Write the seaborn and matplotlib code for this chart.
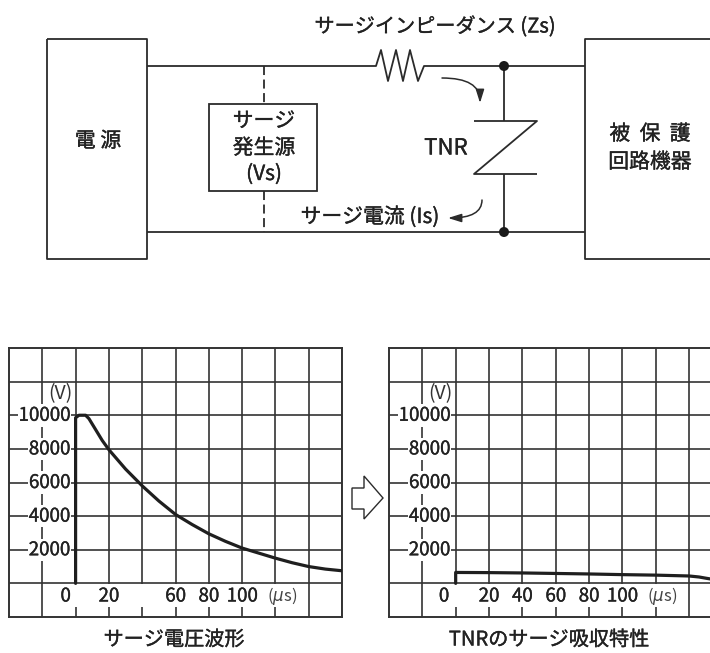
import matplotlib
matplotlib.use("Agg")
import matplotlib.pyplot as plt
from matplotlib.patches import Polygon, Rectangle, FancyArrowPatch, Circle
import matplotlib.patheffects as pe
import pandas as pd
import seaborn as sns

sns.set_theme(style="white")
plt.rcParams['font.family'] = ['Noto Sans CJK JP', 'DejaVu Sans']
plt.rcParams['mathtext.fontset'] = 'dejavusans'

# ---- data ----
surge_t = [0, 0, 2, 6, 8, 12, 16, 20, 30, 40, 50, 60, 70, 80, 90, 100, 110, 120, 130, 140, 150, 160]
surge_v = [0, 9850, 10000, 10000, 9800, 9150, 8500, 7950, 6800, 5800, 4900, 4100, 3500, 2950, 2500, 2100, 1800, 1500, 1230, 1000, 850, 750]
tnr_t = [0, 0, 20, 40, 60, 80, 100, 120, 140, 146, 150, 153]
tnr_v = [0, 650, 640, 620, 590, 560, 520, 490, 440, 380, 310, 260]
y_ticks = [2000, 4000, 6000, 8000, 10000]
left_x_labels = [20, 60, 80, 100]
right_x_labels = [20, 40, 60, 80, 100]
titles = ["サージ電圧波形", "TNRのサージ吸収特性"]

INK = "#2b2b2b"
W, H = 710, 653
fig = plt.figure(figsize=(W / 100, H / 100), dpi=100, facecolor="white")
THICK = [pe.withStroke(linewidth=0.25, foreground="#222222")]

# ---- circuit schematic, in a pixel-based axes ----
bg = fig.add_axes([0, 0, 1, 1], zorder=0)
bg.set_xlim(0, W)
bg.set_ylim(H, 0)
bg.axis("off")

def seg(xs, ys, lw=1.3, **kw):
    bg.plot(xs, ys, color=INK, lw=lw, solid_capstyle="butt", **kw)

def label(x, y, s, size=15, ha="center"):
    bg.text(x, y, s, fontsize=size, ha=ha, va="center", color="#222222", path_effects=THICK)

seg([47, 147, 147, 47, 47], [39, 39, 259, 259, 39])
seg([710, 585, 585, 710], [39, 39, 259, 259])
seg([147, 376, 381, 388, 396, 403, 410, 418, 424, 585],
    [66, 66, 50, 81, 50, 81, 50, 81, 66, 66])
seg([147, 585], [232, 232])
seg([264, 264], [66, 104], ls=(0, (5, 2.5)))
seg([264, 264], [191, 232], ls=(0, (5, 2.5)))
bg.add_patch(Rectangle((209, 104), 108, 87, fill=False, ec=INK, lw=1.3))
seg([504, 504], [66, 121])
seg([504, 504], [174, 232])
seg([474, 537, 474, 537], [121, 121, 174, 174])
for y in (66, 232):
    bg.add_patch(Circle((504, y), 5, fc="#1a1a1a", ec="none", zorder=4))
bg.add_patch(FancyArrowPatch((442, 78), (480, 103), connectionstyle="angle3,angleA=0,angleB=90",
                             arrowstyle="-|>,head_length=8,head_width=2.5", color=INK, lw=1.1, shrinkA=0, shrinkB=0))
bg.add_patch(FancyArrowPatch((482, 200), (448, 218), connectionstyle="angle3,angleA=90,angleB=0",
                             arrowstyle="-|>,head_length=8,head_width=2.5", color=INK, lw=1.1, shrinkA=0, shrinkB=0))
bg.add_patch(Polygon([(352, 488), (364, 488), (364, 476), (383, 498), (364, 519), (364, 509), (352, 509)],
                     closed=True, fill=False, ec=INK, lw=1.0))

label(435, 27, "サージインピーダンス (Zs)", 14.5)
label(98, 141, "電 源")
label(264, 121, "サージ")
label(264, 148, "発生源")
label(264, 174, "(Vs)")
label(446, 148, "TNR", 16)
label(370, 217, "サージ電流 (Is)")
label(650, 134, "被  保  護")
label(650, 162, "回路機器")
label(174, 640, titles[0], 14.5)
label(549, 640, titles[1], 14.5)

# ---- the two waveform charts ----
def chart(rect, xmax, t, v, x_labels, zero_x, spine_right=True):
    ax = fig.add_axes([rect[0] / W, (H - rect[1] - rect[3]) / H, rect[2] / W, rect[3] / H], zorder=2)
    ax.patch.set_alpha(0)
    ax.set_xlim(-40, xmax)
    ax.set_ylim(-2000, 14000)
    ax.set_xticks(range(-20, int(xmax) + 1, 20))
    ax.set_yticks(range(0, 14000, 2000))
    ax.tick_params(length=0, labelbottom=False, labelleft=False)
    ax.grid(True, color="#333333", lw=1.2, zorder=1)
    ax.set_axisbelow(True)
    for name, sp in ax.spines.items():
        sp.set_color("#333333")
        sp.set_linewidth(1.4)
    ax.spines["right"].set_visible(spine_right)
    # white band that interrupts the vertical grid behind the time labels
    ax.add_patch(Rectangle((-12, -1400), 140, 1340, fc="white", ec="none", zorder=1.5))
    sns.lineplot(data=pd.DataFrame({"t": t, "v": v}), x="t", y="v", estimator=None, sort=False,
                 color="#1f1f1f", lw=2.3, ax=ax, zorder=3, clip_on=True)
    ax.set_xlabel("")
    ax.set_ylabel("")
    box = dict(fc="white", ec="none", pad=0.6)
    for y in y_ticks:
        ax.text(-3.4, y, str(y), ha="right", va="center", fontsize=13.5, color="#222222", bbox=box, zorder=2, path_effects=THICK)
    ax.text(-9, 11300, "(V)", ha="center", va="center", fontsize=14, color="#333333", zorder=2)
    ax.text(zero_x, -750, "0", ha="center", va="center", fontsize=13.5, color="#222222", zorder=2, path_effects=THICK)
    for x in x_labels:
        ax.text(x, -750, str(x), ha="center", va="center", fontsize=13.5, color="#222222", zorder=2, path_effects=THICK)
    ax.text(124, -780, r"($\mu$s)", ha="center", va="center", fontsize=12, color="#444444", zorder=2)
    return ax

chart((9, 348, 333, 269), 160, surge_t, surge_v, left_x_labels, -6)
chart((389, 348, 321, 269), 152.6, tnr_t, tnr_v, right_x_labels, -7, spine_right=False)

fig.savefig("out.png", dpi=100)
